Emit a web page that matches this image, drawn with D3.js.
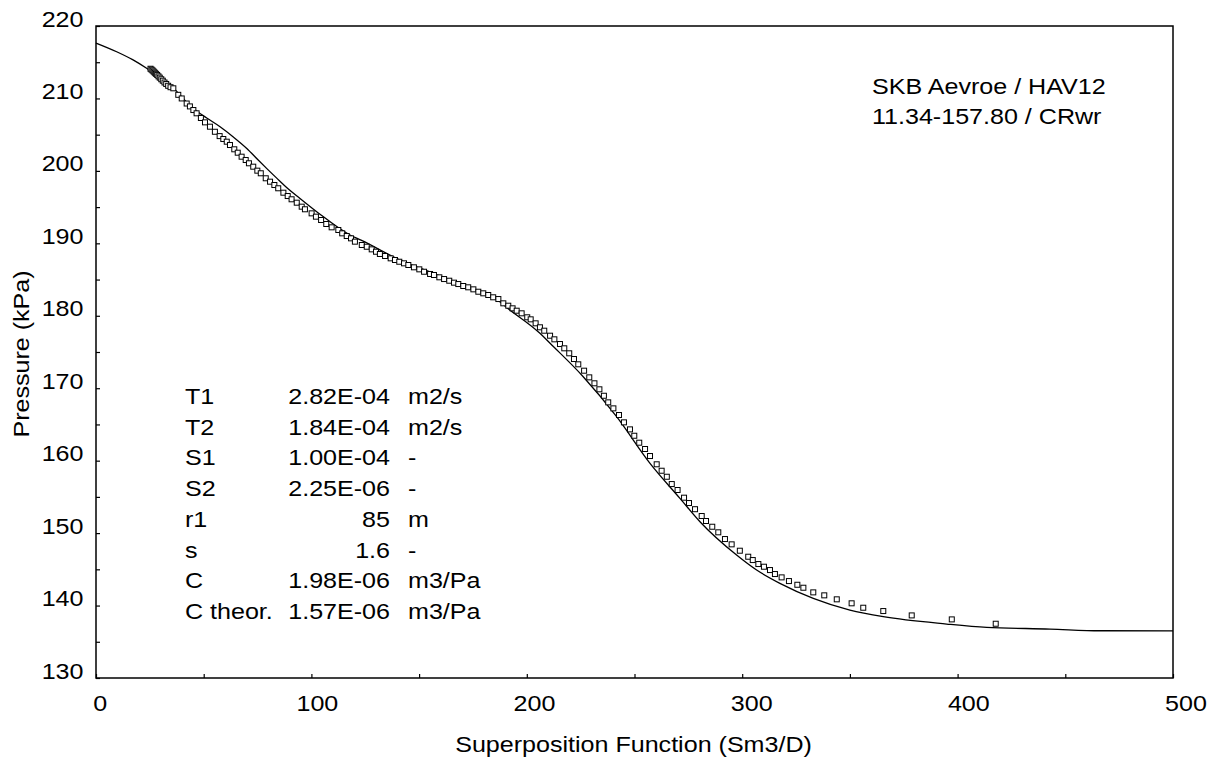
<!DOCTYPE html>
<html>
<head>
<meta charset="utf-8">
<script src="https://cdn.jsdelivr.net/npm/d3@7"></script>
<style>
  html, body { margin: 0; padding: 0; background: #fff; }
  svg { display: block; }
  text { font-family: "Liberation Sans", Arial, Helvetica, sans-serif; fill: #000; }
</style>
</head>
<body>
<svg id="chart" width="1221" height="760"></svg>
<script>
// ---------- data ----------
const xTicks = [0, 100, 200, 300, 400, 500];
const yTicks = [130, 140, 150, 160, 170, 180, 190, 200, 210, 220];
const xLabel = "Superposition Function (Sm3/D)";
const yLabel = "Pressure (kPa)";
const titleLines = ["SKB Aevroe / HAV12", "11.34-157.80 / CRwr"];
const paramNames = ["T1", "T2", "S1", "S2", "r1", "s", "C", "C theor."];
const paramValues = ["2.82E-04", "1.84E-04", "1.00E-04", "2.25E-06", "85", "1.6", "1.98E-06", "1.57E-06"];
const paramUnits = ["m2/s", "m2/s", "-", "-", "m", "-", "m3/Pa", "m3/Pa"];

// model (solid line): superposition function, pressure
const modelX = [0, 9.6, 17, 23.5, 35, 45.2, 51.4, 57.6, 63.6, 70, 75.3, 79.2, 83.9, 89.3, 94.7, 103.2,
  117.9, 123.3, 141.1, 156.6, 172.1, 186, 190, 206.1, 210.8, 226.2, 241.7, 257.2, 271.1, 280.4,
  297.4, 306.7, 317.5, 333, 350, 365.5, 394.9, 413.5, 442.9, 466.1, 500];
const modelP = [217.65, 216.45, 215.35, 214.16, 211.7, 208.6, 207.3, 206.1, 204.72, 203.1, 201.5, 200.35, 199.0, 197.5, 196.2, 194.2,
  191.15, 190.4, 187.7, 185.86, 184.01, 182.3, 181.3, 177.58, 176.2, 171.59, 166.07, 159.63, 154.8, 151.57,
  146.97, 144.9, 143.07, 141.0, 139.38, 138.46, 137.45, 136.99, 136.76, 136.52, 136.5];

// measured (squares)
const obsX = [25.3, 25.8, 26.3, 26.8, 27.3, 27.8, 28.4, 29.0, 29.6, 30.3, 31.0, 31.8, 32.6, 33.5, 34.6,
  35.9, 38.2, 39.8, 42.1, 43.6, 45.2, 46.7, 48.7, 50.6, 52.9, 55.2, 57.4, 59.1,
  60.7, 62.2, 64.2, 65.8, 67.6, 69.5, 71.0, 73.0, 74.9, 76.5, 78.8, 80.8, 82.8, 84.6, 87.0, 89.0, 90.8, 93.2, 95.5, 97.0,
  100.1, 102.1, 104.5, 106.9, 109.4, 112.5, 114.3, 116.4, 118.4,
  120.2, 123.4, 125.7, 128.0, 130.0, 131.8, 134.2, 136.8, 138.8, 140.8, 143.0, 145.0, 147.6, 150.1, 152.3, 155.1, 156.9,
  159.4, 161.6, 164.0, 166.2, 168.2, 170.5, 172.8, 175.2, 177.5, 179.8, 182.1, 184.4, 186.8,
  189.1, 191.4, 193.4, 195.3, 197.6, 200.2, 201.8, 204.1, 206.1, 208.1, 210.8, 212.8, 215.4, 217.4, 219.7, 221.9, 223.9,
  226.6, 229.0, 231.4, 233.7, 235.8, 237.8, 240.2, 242.8, 245.1, 247.9, 249.9, 252.2, 254.9, 257.2, 260.3, 262.6, 265.0,
  267.3, 270.0, 273.0, 275.3, 278.1,
  281.2, 283.2, 286.1, 288.9, 292.0, 295.1, 298.9, 302.8, 304.9, 307.5, 310.1, 312.9, 315.2, 318.3, 321.7, 325.6, 328.4,
  333.0, 338.1, 343.9, 350.8, 356.2, 365.5, 378.7, 397.3, 417.7];
const obsP = [214.1, 213.98, 213.85, 213.7, 213.55, 213.4, 213.25, 213.05, 212.87, 212.65, 212.45, 212.2, 212.0, 211.75, 211.55,
  211.4, 210.5, 210.0, 209.3, 208.9, 208.4, 207.95, 207.3, 206.7, 206.1, 205.4, 204.8, 204.4,
  204.03, 203.57, 202.98, 202.51, 201.96, 201.5, 201.05, 200.58, 200.03, 199.67, 198.98, 198.51, 198.05, 197.6, 196.99, 196.53, 196.08, 195.61, 195.06, 194.7,
  194.14, 193.68, 193.22, 192.67, 192.21, 191.84, 191.38, 191.01, 190.69,
  190.23, 189.77, 189.53, 189.17, 188.84, 188.53, 188.25, 187.93, 187.7, 187.46, 187.24, 187.01, 186.69, 186.41, 186.08, 185.77, 185.63,
  185.31, 185.07, 184.84, 184.57, 184.38, 184.11, 183.93, 183.65, 183.32, 183.1, 182.87, 182.55, 182.31,
  181.72, 181.39, 181.03, 180.7, 180.34, 179.79, 179.51, 178.96, 178.41, 177.94, 177.25, 176.75, 176.1, 175.51, 174.82, 174.03, 173.3,
  172.42, 171.5, 170.68, 169.85, 168.96, 168.05, 167.22, 166.3, 165.29, 164.32, 163.44, 162.48, 161.61, 160.64, 159.5, 158.61, 157.78,
  156.77, 155.95, 154.89, 154.15, 153.3,
  152.36, 151.67, 150.88, 150.11, 149.18, 148.45, 147.57, 146.74, 146.28, 145.73, 145.36, 144.9, 144.35, 143.89, 143.38, 142.87, 142.46,
  141.82, 141.41, 140.86, 140.31, 139.7, 139.24, 138.64, 138.09, 137.49];

// ---------- layout ----------
const W = 1221, H = 760;
const margin = {top: 26, right: 48, bottom: 82, left: 96};
const iw = W - margin.left - margin.right;
const ih = H - margin.top - margin.bottom;
const FS = 22;      // font size
const SX = 1.14;    // horizontal widening of the glyphs (reference font is wide)

const svg = d3.select("#chart");
const g = svg.append("g").attr("transform", `translate(${margin.left},${margin.top})`);

const x = d3.scaleLinear().domain([0, 500]).range([0, iw]);
const y = d3.scaleLinear().domain([130, 220]).range([ih, 0]);

// frame
g.append("rect").attr("x", 0).attr("y", 0).attr("width", iw).attr("height", ih)
  .attr("fill", "none").attr("stroke", "#000").attr("stroke-width", 1.5);

// minor ticks (every 50 on x, every 5 on y) inward
const xMinor = d3.axisBottom(x).tickValues(d3.range(0, 501, 50)).tickSize(-4).tickFormat("");
g.append("g").attr("transform", `translate(0,${ih})`).call(xMinor)
  .call(s => s.select(".domain").remove())
  .selectAll("line").attr("stroke", "#000").attr("stroke-width", 1.2);
const yMinor = d3.axisLeft(y).tickValues(d3.range(130, 221, 5)).tickSize(-4).tickFormat("");
g.append("g").call(yMinor)
  .call(s => s.select(".domain").remove())
  .selectAll("line").attr("stroke", "#000").attr("stroke-width", 1.2);

// labelled axes
const xAxis = d3.axisBottom(x).tickValues(xTicks).tickSize(0).tickPadding(17).tickFormat(d3.format("d"));
const gx = g.append("g").attr("transform", `translate(0,${ih})`).call(xAxis);
gx.select(".domain").remove();
gx.selectAll("text").attr("font-size", FS).attr("font-family", null).attr("dy", "0.71em")
  .attr("x", d => (3.7 + 8.8 * d / 500) / SX)
  .attr("transform", `scale(${SX},1)`);

const yAxis = d3.axisLeft(y).tickValues(yTicks).tickSize(0).tickPadding(11).tickFormat(d3.format("d"));
const gy = g.append("g").call(yAxis);
gy.select(".domain").remove();
gy.selectAll("text").attr("font-size", FS).attr("font-family", null).attr("dy", "0em")
  .attr("transform", `scale(${SX},1)`);

// helper for widened text
function wtext(sel, tx, ty, extra) {
  return sel.attr("transform", `translate(${tx},${ty})${extra || ""} scale(${SX},1)`);
}

// axis titles
wtext(svg.append("text"), margin.left + iw / 2 - 1, 752)
  .attr("text-anchor", "middle").attr("font-size", FS).text(xLabel);
wtext(svg.append("text"), 29, margin.top + ih / 2 + 2, " rotate(-90)")
  .attr("text-anchor", "middle").attr("font-size", FS).text(yLabel);

// model line
const line = d3.line().x((d, i) => x(modelX[i])).y((d, i) => y(modelP[i])).curve(d3.curveMonotoneX);
g.append("path").datum(modelX).attr("d", line)
  .attr("fill", "none").attr("stroke", "#000").attr("stroke-width", 1.3);

// observed squares
const sq = 5;
g.append("g").selectAll("rect").data(obsX).join("rect")
  .attr("x", (d, i) => x(d) - sq / 2).attr("y", (d, i) => y(obsP[i]) - sq / 2)
  .attr("width", sq).attr("height", sq)
  .attr("fill", "#fff").attr("stroke", "#000").attr("stroke-width", 1);

// title block (top right)
svg.append("g").selectAll("text").data(titleLines).join("text")
  .each(function (d, i) { wtext(d3.select(this), 872, 94 + i * 30); })
  .attr("font-size", FS).text(d => d);

// parameter table
const rowY = i => 404 + i * 30.7;
const tbl = svg.append("g").attr("font-size", FS);
tbl.selectAll("text.n").data(paramNames).join("text").attr("class", "n")
  .each(function (d, i) { wtext(d3.select(this), 185, rowY(i)); }).text(d => d);
tbl.selectAll("text.v").data(paramValues).join("text").attr("class", "v")
  .each(function (d, i) { wtext(d3.select(this), 390, rowY(i)); })
  .attr("text-anchor", "end").text(d => d);
tbl.selectAll("text.u").data(paramUnits).join("text").attr("class", "u")
  .each(function (d, i) { wtext(d3.select(this), 408, rowY(i)); }).text(d => d);
</script>
</body>
</html>
